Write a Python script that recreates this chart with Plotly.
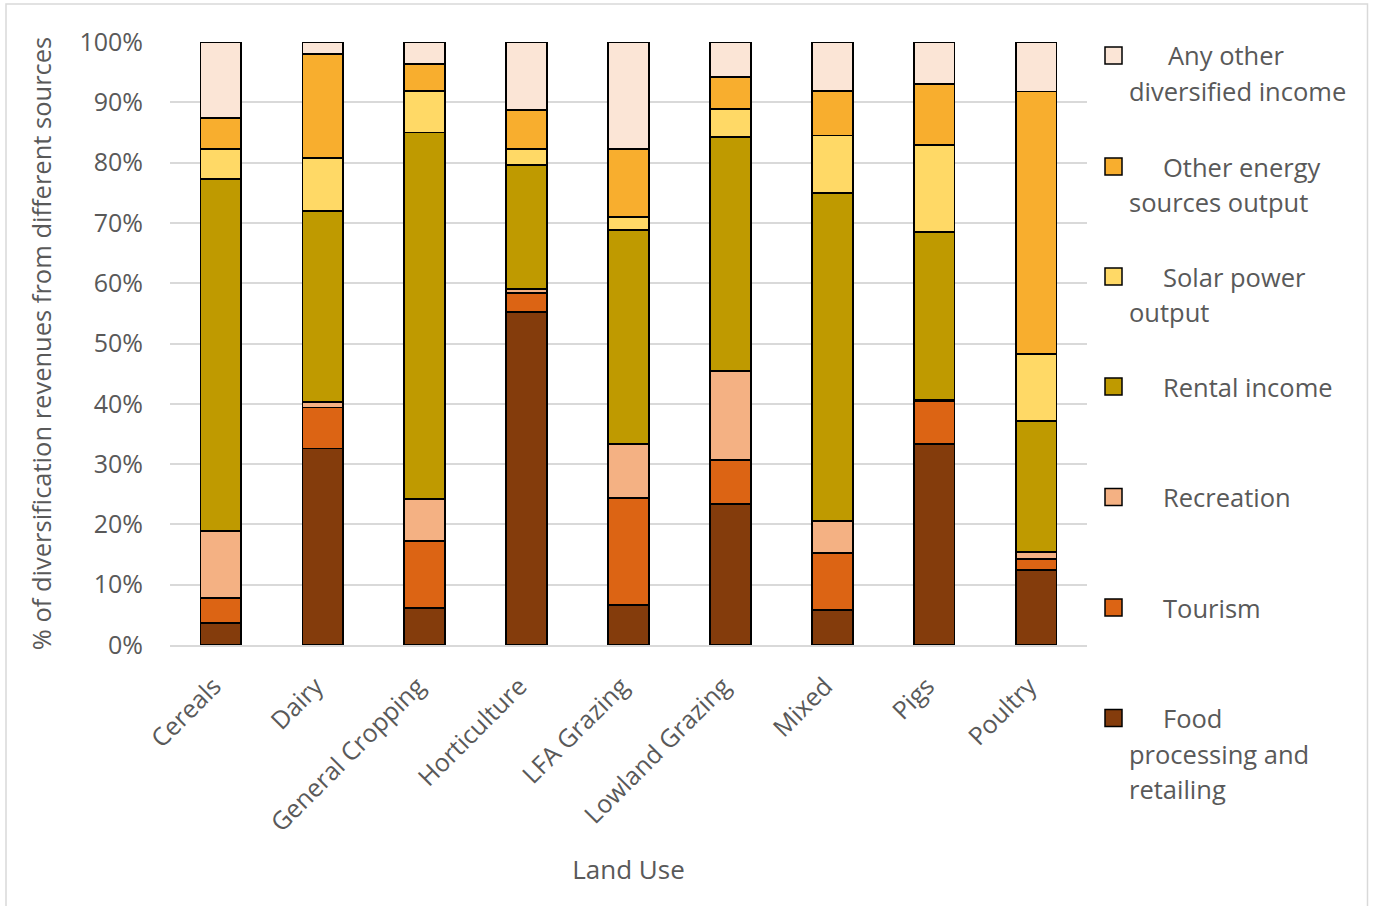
import plotly.graph_objects as go

# Land-use categories and the share (%) of diversification revenue from each source
categories = ["Cereals", "Dairy", "General Cropping", "Horticulture", "LFA Grazing",
              "Lowland Grazing", "Mixed", "Pigs", "Poultry"]
food_processing = [3.7, 32.6, 6.2, 55.2, 6.6, 23.4, 5.8, 33.3, 12.4]
tourism = [4.1, 6.8, 11.1, 3.2, 17.8, 7.3, 9.5, 7.2, 1.9]
recreation = [11.1, 0.9, 6.9, 0.7, 8.9, 14.7, 5.3, 0.2, 1.1]
rental_income = [58.4, 31.7, 60.8, 20.5, 35.5, 38.8, 54.4, 27.8, 21.7]
solar_power = [5.0, 8.7, 6.9, 2.7, 2.2, 4.7, 9.5, 14.4, 11.1]
other_energy = [5.1, 17.3, 4.4, 6.4, 11.2, 5.3, 7.4, 10.1, 43.6]
any_other = [12.6, 2.0, 3.7, 11.3, 17.8, 5.8, 8.1, 7.0, 8.2]

y_ticks = [0, 10, 20, 30, 40, 50, 60, 70, 80, 90, 100]
y_tick_labels = ["0%", "10%", "20%", "30%", "40%", "50%", "60%", "70%", "80%", "90%", "100%"]

# (values, colour, legend lines) stacked bottom to top
series = [
    (food_processing, "#843C0C", ["Food", "processing and", "retailing"]),
    (tourism, "#DC6414", ["Tourism"]),
    (recreation, "#F4B183", ["Recreation"]),
    (rental_income, "#BF9A00", ["Rental income"]),
    (solar_power, "#FFD966", ["Solar power", "output"]),
    (other_energy, "#F8AE2E", ["Other energy", "sources output"]),
    (any_other, "#FBE5D6", ["Any other", "diversified income"]),
]

W, H = 1373, 906
L, R, T, B = 170, 1087, 42, 645
FONT = "Open Sans"
TXT = "#595959"


def px(x):
    return (x - L) / (R - L)


def py(y):
    return (B - y) / (B - T)


fig = go.Figure()
for vals, col, lines in series:
    fig.add_trace(go.Bar(
        x=categories, y=vals, name=" ".join(lines),
        marker=dict(color=col, line=dict(color="black", width=1.8)),
        width=0.4, showlegend=False,
    ))

# Hand-built legend on the right, top entry = top of the stack
legend_marker_y = [55.5, 166.5, 276.5, 386.5, 497, 607.5, 718]
first_line_x = [1166, 1161, 1161, 1161, 1161, 1161, 1161]
shapes = []
annotations = []
for (vals, col, lines), yc, x1st in zip(reversed(series), legend_marker_y, first_line_x):
    shapes.append(dict(type="rect", xref="paper", yref="paper",
                       x0=px(1105), x1=px(1122), y0=py(yc + 8.5), y1=py(yc - 8.5),
                       fillcolor=col, line=dict(color="black", width=1.5)))
    for i, line in enumerate(lines):
        xs = x1st if i == 0 else 1127
        annotations.append(dict(text=line, xref="paper", yref="paper",
                                x=px(xs), y=py(yc + 35.5 * i), xanchor="left", yanchor="middle",
                                showarrow=False, font=dict(family=FONT, size=25.5, color=TXT)))

# chart-area border
shapes.append(dict(type="rect", xref="paper", yref="paper", layer="below",
                   x0=px(6), x1=px(1367.5), y0=py(915), y1=py(4),
                   line=dict(color="#D9D9D9", width=1.5), fillcolor="rgba(0,0,0,0)"))

fig.update_layout(
    width=W, height=H,
    margin=dict(l=L, r=W - R, t=T, b=H - B, autoexpand=False),
    barmode="stack",
    paper_bgcolor="white", plot_bgcolor="white",
    font=dict(family=FONT, color=TXT, size=25),
    shapes=shapes, annotations=annotations,
    xaxis=dict(
        tickangle=-45, tickfont=dict(size=25, color=TXT),
        showgrid=False, showline=True, linecolor="#D9D9D9", linewidth=1.5,
        ticks="", ticklabelstandoff=15, ticklabelshift=-7,
        title=dict(text="Land Use", font=dict(size=26, color=TXT), standoff=24),
        automargin=False,
    ),
    yaxis=dict(
        range=[0, 100], tickvals=y_ticks, ticktext=y_tick_labels,
        tickfont=dict(size=25, color=TXT),
        showgrid=True, gridcolor="#D9D9D9", gridwidth=1.5,
        zeroline=False, showline=False, ticks="", ticklabelstandoff=26,
        title=dict(text="% of diversification revenues from different sources",
                   font=dict(size=25.5, color=TXT), standoff=20),
        automargin=False,
    ),
)

fig.write_html("out.html")
